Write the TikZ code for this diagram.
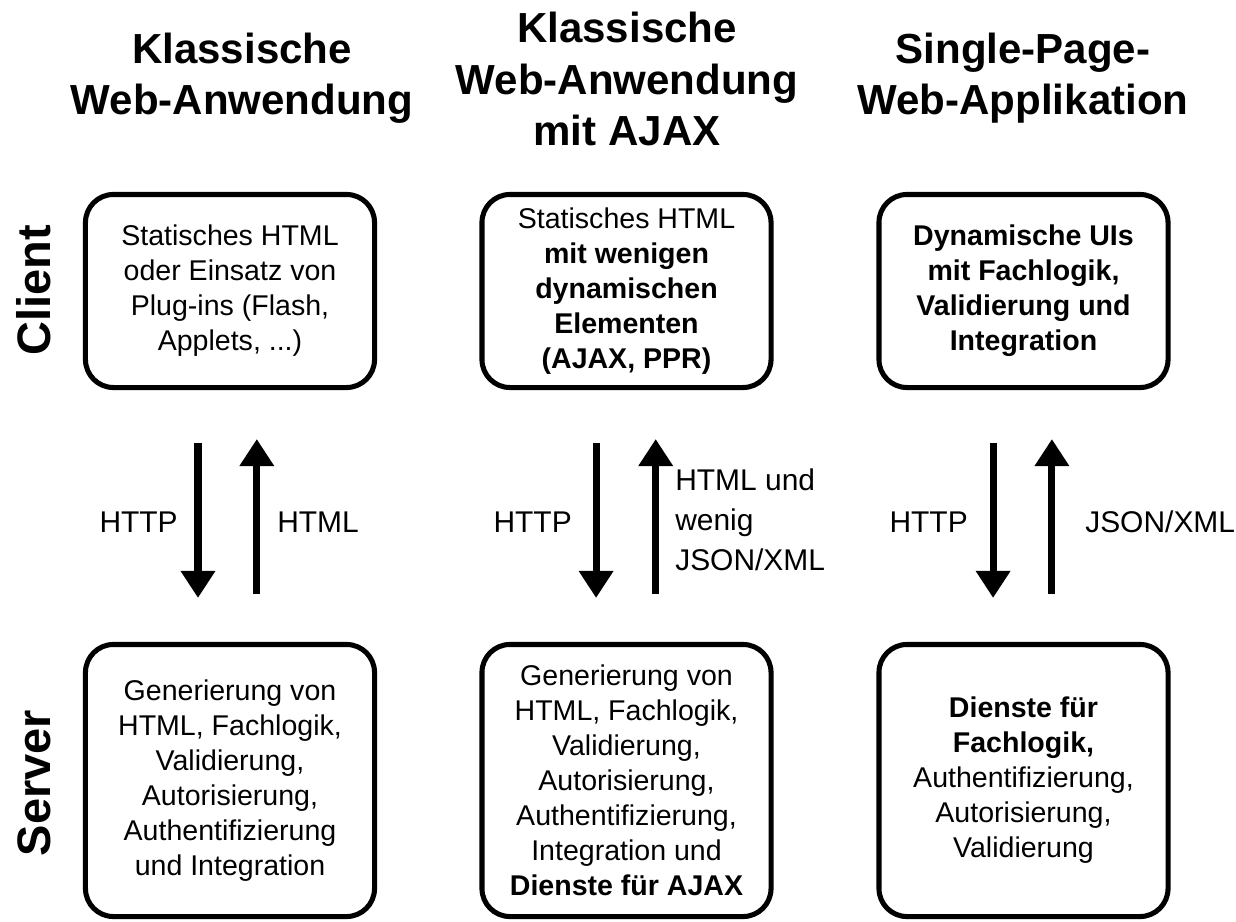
\documentclass[tikz,border=0pt]{standalone}
\usepackage{fontspec}
\setmainfont{Liberation Sans}
\usetikzlibrary{arrows.meta}

\begin{document}
\begin{tikzpicture}[x=0.025cm,y=0.025cm,
  box/.style={draw, line width=3.6pt, rounded corners=0.7cm, align=center,
    minimum width=7.225cm, inner sep=0pt, font=\fontsize{20.3}{24.9}\selectfont},
  clientbox/.style={box, minimum height=4.825cm},
  serverbox/.style={box, minimum height=6.8cm},
  title/.style={align=center, font=\fontsize{29.9}{36.3}\selectfont\bfseries},
  side/.style={rotate=90, font=\fontsize{33.4}{40}\selectfont\bfseries},
  proto/.style={inner sep=0pt, align=left, font=\fontsize{21.3}{28.45}\selectfont},
  bigarrow/.style={line width=5pt, -{Triangle[width=0.825cm,length=0.675cm]}}]
  \useasboundingbox (0,0) rectangle (1236,-921);

  \node (t1) at (242,-78) [title] {Klassische\\Web-Anwendung};
  \node (t2) at (627,-79) [title] {Klassische\\Web-Anwendung\\mit AJAX};
  \node (t3) at (1023,-78) [title] {Single-Page-\\Web-Applikation};

  \node (client) at (34,-290) [side] {Client};
  \node (server) at (34,-783) [side] {Server};

  \node (c1) at (230,-291) [clientbox] {Statisches HTML\\oder Einsatz von\\Plug-ins (Flash,\\Applets, ...)};
  \node (c2) at (626.5,-291) [clientbox] {Statisches HTML\\\textbf{mit wenigen}\\\textbf{dynamischen}\\\textbf{Elementen}\\\textbf{(AJAX, PPR)}};
  \node (c3) at (1023.5,-291) [clientbox] {\textbf{Dynamische UIs}\\\textbf{mit Fachlogik,}\\\textbf{Validierung und}\\\textbf{Integration}};

  \node (s1) at (230,-780.5) [serverbox] {Generierung von\\HTML, Fachlogik,\\Validierung,\\Autorisierung,\\Authentifizierung\\und Integration};
  \node (s2) at (626.5,-780.5) [serverbox] {Generierung von\\HTML, Fachlogik,\\Validierung,\\Autorisierung,\\Authentifizierung,\\Integration und\\\textbf{Dienste für AJAX}};
  \node (s3) at (1023.5,-780.5) [serverbox] {\textbf{Dienste für}\\\textbf{Fachlogik,}\\Authentifizierung,\\Autorisierung,\\Validierung};

  \draw [bigarrow, shorten <=1.325cm, shorten >=1.1cm] ([xshift=-0.8cm]c1.south) -- ([xshift=-0.8cm]s1.north);
  \draw [bigarrow, shorten <=1.2cm, shorten >=1.225cm] ([xshift=0.67cm]s1.north) -- ([xshift=0.67cm]c1.south);
  \draw [bigarrow, shorten <=1.325cm, shorten >=1.1cm] ([xshift=-0.76cm]c2.south) -- ([xshift=-0.76cm]s2.north);
  \draw [bigarrow, shorten <=1.2cm, shorten >=1.225cm] ([xshift=0.73cm]s2.north) -- ([xshift=0.73cm]c2.south);
  \draw [bigarrow, shorten <=1.325cm, shorten >=1.1cm] ([xshift=-0.76cm]c3.south) -- ([xshift=-0.76cm]s3.north);
  \draw [bigarrow, shorten <=1.2cm, shorten >=1.225cm] ([xshift=0.71cm]s3.north) -- ([xshift=0.71cm]c3.south);

  \node (http1) at (178,-522) [proto, anchor=east] {HTTP};
  \node (html1) at (277,-522) [proto, anchor=west] {HTML};
  \node (http2) at (572,-522) [proto, anchor=east] {HTTP};
  \node (html2) at (675,-520) [proto, anchor=west] {HTML und\\wenig\\JSON/XML};
  \node (http3) at (968,-522) [proto, anchor=east] {HTTP};
  \node (json3) at (1085,-522) [proto, anchor=west] {JSON/XML};
\end{tikzpicture}
\end{document}
